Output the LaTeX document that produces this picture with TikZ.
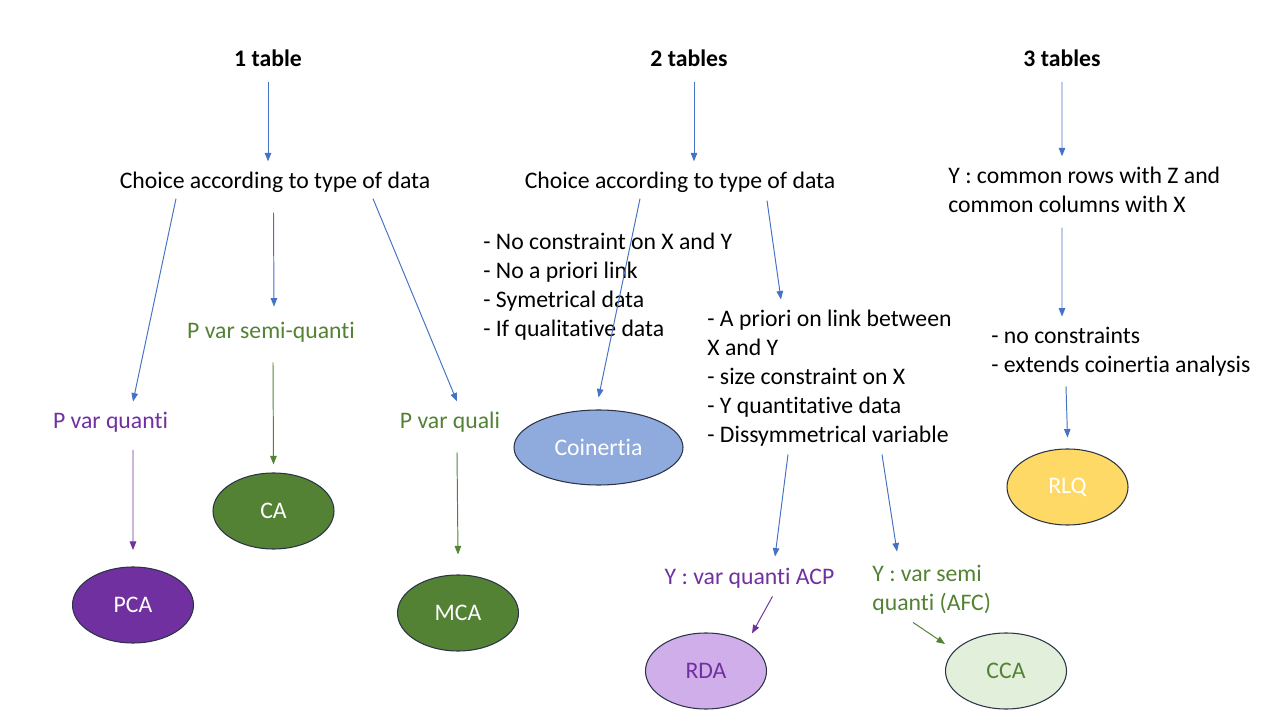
\documentclass[tikz,border=0pt]{standalone}
\usepackage{fontspec}
\setmainfont{Carlito}[Ligatures=NoCommon]
\usetikzlibrary{arrows.meta,shapes.geometric,positioning}
\definecolor{arrblue}{HTML}{4472C4}
\definecolor{varpurple}{HTML}{7030A0}
\definecolor{vargreen}{HTML}{548235}
\definecolor{coinfill}{HTML}{8FAADC}
\definecolor{rdafill}{HTML}{CFAEE9}
\definecolor{ccafill}{HTML}{E2EFDA}
\definecolor{rlqfill}{HTML}{FFD966}
\definecolor{rim}{HTML}{2B3447}
\tikzset{
  lbl/.style={inner sep=0pt, font=\fontsize{13.5}{16.5}\selectfont},
  lst/.style={lbl, align=left, anchor=west},
  arr/.style={-{Triangle[length=1.7mm,width=1.3mm]}, line width=0.55pt, arrblue},
  method/.style={ellipse, draw=rim, line width=0.6pt, minimum width=2.42cm,
    minimum height=1.52cm, inner sep=0pt, font=\fontsize{13.5}{16.5}\selectfont}
}
\begin{document}
\begin{tikzpicture}
  \useasboundingbox (0,0) rectangle (25.6,14.4);
  % titles
  \node[lbl, font=\fontsize{13.5}{16.5}\selectfont\bfseries] (t1) at (5.36,13.24) {1 table};
  \node[lbl, font=\fontsize{13.5}{16.5}\selectfont\bfseries] (t2) at (13.78,13.24) {2 tables};
  \node[lbl, font=\fontsize{13.5}{16.5}\selectfont\bfseries] (t3) at (21.24,13.24) {3 tables};
  % 1 table
  \node[lbl] (choiceA) at (5.5,10.76) {Choice according to type of data};
  \node[lbl, text=varpurple] (pquanti) at (2.21,5.96) {P var quanti};
  \node[lbl, text=vargreen] (psemi) at (5.42,7.76) {P var semi-quanti};
  \node[lbl, text=vargreen] (pquali) at (9.0,5.96) {P var quali};
  \node[method, fill=varpurple, text=white] (pca) at (2.66,2.3) {PCA};
  \node[method, fill=vargreen, text=white] (ca) at (5.47,4.18) {CA};
  \node[method, fill=vargreen, text=white] (mca) at (9.16,2.14) {MCA};
  % 2 tables
  \node[lbl] (choiceB) at (13.6,10.76) {Choice according to type of data};
  \node[lst] (listA) at (9.66,8.67) {- No constraint on X and Y\\- No a priori link\\- Symetrical data\\- If qualitative data};
  \node[method, fill=coinfill, text=white, minimum width=3.38cm, minimum height=1.5cm] (coin) at (11.97,5.45) {Coinertia};
  \node[lst] (listB) at (14.14,6.84) {- A priori on link between\\X and Y\\- size constraint on X\\- Y quantitative data\\- Dissymmetrical variable};
  \node[lbl, text=varpurple] (yacp) at (14.99,2.84) {Y : var quanti ACP};
  \node[lst, text=vargreen] (ysemi) at (17.44,2.61) {Y : var semi\\quanti (AFC)};
  \node[method, fill=rdafill, text=varpurple] (rda) at (14.12,0.98) {RDA};
  \node[method, fill=ccafill, text=vargreen] (cca) at (20.12,0.98) {CCA};
  % 3 tables
  \node[lst] (ycommon) at (18.96,10.61) {Y : common rows with Z and\\common columns with X};
  \node[lst] (listC) at (19.82,7.37) {- no constraints\\- extends coinertia analysis};
  \node[method, fill=rlqfill, text=white] (rlq) at (21.35,4.66) {RLQ};
  % connectors
  \draw[arr] ([yshift=-0.3cm]t1.south) -- ([xshift=-0.14cm,yshift=0.2cm]choiceA.north);
  \draw[arr] ([xshift=0.1cm,yshift=-0.3cm]t2.south) -- ([xshift=0.28cm,yshift=0.2cm]choiceB.north);
  \draw[arr] ([yshift=-0.3cm]t3.south) -- ([xshift=2.28cm,yshift=0.2cm]ycommon.north west);
  \draw[arr] ([xshift=-1.98cm,yshift=-0.12cm]choiceA.south) -- ([xshift=0.45cm,yshift=0.2cm]pquanti.north);
  \draw[arr] ([xshift=-0.03cm,yshift=-0.4cm]choiceA.south) -- ([xshift=0.06cm,yshift=0.3cm]psemi.north);
  \draw[arr] ([xshift=1.96cm,yshift=-0.12cm]choiceA.south) -- ([xshift=0.14cm,yshift=0.2cm]pquali.north);
  \draw[arr, varpurple] ([xshift=0.45cm,yshift=-0.35cm]pquanti.south) -- (pca.north |- 0,3.4);
  \draw[arr, vargreen] ([xshift=0.04cm,yshift=-0.4cm]psemi.south) -- ([yshift=0.16cm]ca.north);
  \draw[arr, vargreen] ([xshift=0.14cm,yshift=-0.4cm]pquali.south) -- ([yshift=0.4cm]mca.north);
  \draw[arr] ([xshift=-0.8cm,yshift=-0.12cm]choiceB.south) -- ([yshift=0.24cm]coin.north);
  \draw[arr] ([xshift=1.74cm,yshift=-0.16cm]choiceB.south) -- ([xshift=1.48cm,yshift=0.2cm]listB.north west);
  \draw[arr] ([xshift=1.62cm,yshift=-0.16cm]listB.south west) -- ([xshift=0.51cm,yshift=0.22cm]yacp.north);
  \draw[arr] ([xshift=3.5cm,yshift=-0.16cm]listB.south west) -- ([xshift=0.5cm,yshift=0.26cm]ysemi.north west);
  \draw[arr, varpurple] ([xshift=0.46cm,yshift=-0.16cm]yacp.south) -- ([xshift=0.92cm,yshift=-0.02cm]rda.north);
  \draw[arr, vargreen] ([xshift=0.82cm,yshift=-0.16cm]ysemi.south west) -- ([yshift=0.54cm]cca.west);
  \draw[arr] ([xshift=2.28cm,yshift=-0.3cm]ycommon.south west) -- ([xshift=1.42cm,yshift=0.2cm]listC.north west);
  \draw[arr] ([xshift=1.5cm,yshift=-0.2cm]listC.south west) -- ([yshift=0.22cm]rlq.north);
\end{tikzpicture}
\end{document}
